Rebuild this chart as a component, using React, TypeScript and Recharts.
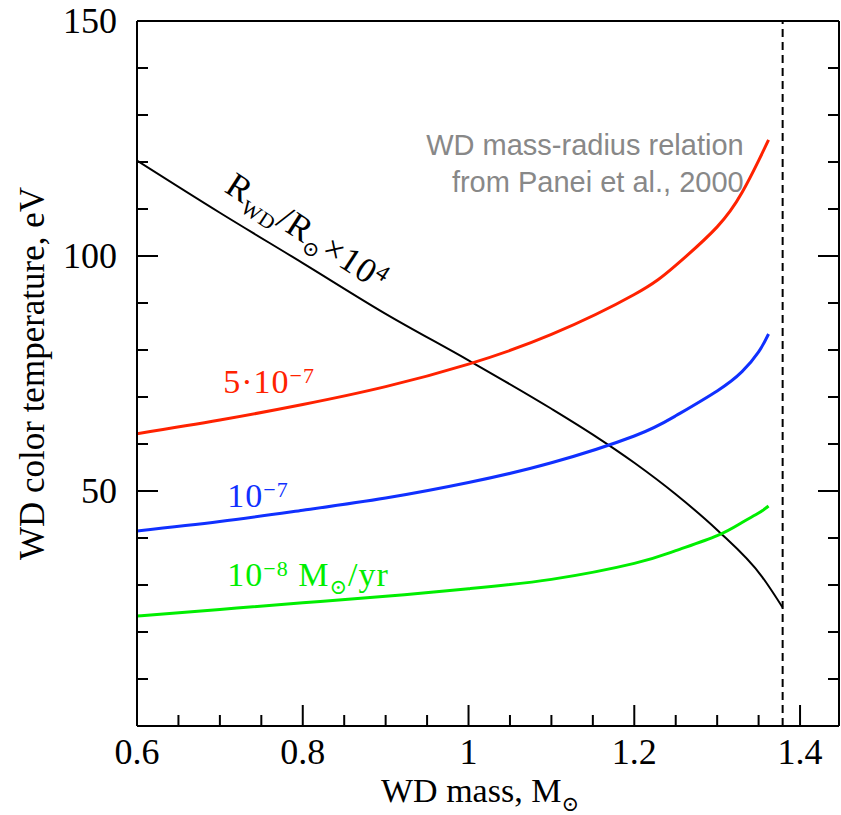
import React from 'react';
import { LineChart, Line, XAxis, YAxis, ReferenceLine, ReferenceDot } from 'recharts';

// ─── Data (WD mass in M_sun, colour temperature in eV) ───
const MASS = [0.6, 0.7, 0.8, 0.9, 1.0, 1.1, 1.2, 1.25, 1.3, 1.33, 1.35, 1.362];
const T_5E7 = [62.2, 65.1, 68.4, 72.2, 77.0, 83.3, 91.8, 98.0, 106.2, 113.5, 120.3, 124.7];
const T_1E7 = [41.5, 43.5, 45.9, 48.5, 51.8, 56.0, 61.7, 66.0, 71.3, 75.4, 79.6, 83.4];
const T_1E8 = [23.4, 24.8, 26.2, 27.6, 29.2, 31.2, 34.6, 37.3, 40.5, 43.3, 45.3, 46.8];

// radius curve (R_WD / R_sun x 1e4), Panei et al. 2000
const MASS_R = [0.6, 0.7, 0.8, 0.9, 1.0, 1.1, 1.15, 1.2, 1.25, 1.3, 1.354, 1.379];
const R_WD = [120.3, 109.2, 98.5, 87.7, 77.8, 67.5, 62.0, 56.0, 49.3, 41.7, 31.8, 25.2];

const M_CH = 1.379;

// ─── Axes ───
const X_DOMAIN = [0.6, 1.447];
const X_TICKS = [0.6, 0.65, 0.7, 0.75, 0.8, 0.85, 0.9, 0.95, 1, 1.05, 1.1, 1.15, 1.2, 1.25, 1.3, 1.35, 1.4];
const X_LABELS = ['0.6', '0.8', '1', '1.2', '1.4'];
const Y_TICKS = [0, 10, 20, 30, 40, 50, 60, 70, 80, 90, 100, 110, 120, 130, 140, 150];
const Y_LABELS = [50, 100, 150];

const SERIF = '"Liberation Serif", "DejaVu Serif", serif';
const SANS = '"Liberation Sans", Arial, sans-serif';
const MAJOR = 21;
const MINOR = 11;

const RED = '#ff2200';
const BLUE = '#1030ff';
const GREEN = '#00ee00';

const toRows = (xs: number[], ys: number[]) => xs.map((m, i) => ({ m, t: ys[i] }));

const isMajorX = (v: number) => X_LABELS.includes(String(v));
const isMajorY = (v: number) => v % 50 === 0;

// ─── inward ticks on all four sides ───
const BottomTick = (p: any) => {
  const v = p.payload.value;
  const major = isMajorX(v);
  return (
    <g>
      <line x1={p.x} y1={p.y} x2={p.x} y2={p.y - (major ? MAJOR : MINOR)} stroke="#000" strokeWidth={2} />
      {major && (
        <text x={p.x} y={p.y + 38} textAnchor="middle" fontFamily={SERIF} fontSize={36} fill="#000">
          {String(v)}
        </text>
      )}
    </g>
  );
};

const TopTick = (p: any) => {
  const major = isMajorX(p.payload.value);
  return <line x1={p.x} y1={p.y} x2={p.x} y2={p.y + (major ? MAJOR : MINOR)} stroke="#000" strokeWidth={2} />;
};

const LeftTick = (p: any) => {
  const v = p.payload.value;
  const major = isMajorY(v);
  return (
    <g>
      <line x1={p.x} y1={p.y} x2={p.x + (major ? MAJOR : MINOR)} y2={p.y} stroke="#000" strokeWidth={2} />
      {Y_LABELS.includes(v) && (
        <text x={p.x - 20} y={p.y + 12} textAnchor="end" fontFamily={SERIF} fontSize={36} fill="#000">
          {v}
        </text>
      )}
    </g>
  );
};

const RightTick = (p: any) => {
  const major = isMajorY(p.payload.value);
  return <line x1={p.x} y1={p.y} x2={p.x - (major ? MAJOR : MINOR)} y2={p.y} stroke="#000" strokeWidth={2} />;
};

// ─── axis titles ───
const XTitle = (p: any) => {
  const vb = p.viewBox;
  return (
    <text x={vb.x + vb.width / 2 - 8} y={vb.y + 76} textAnchor="middle" fontFamily={SERIF} fontSize={34} fill="#000">
      WD mass, M
      <tspan fontSize={21} dy={9}>⊙</tspan>
    </text>
  );
};

const YTitle = (p: any) => {
  const vb = p.viewBox;
  const cx = 44;
  const cy = vb.y + vb.height / 2;
  return (
    <text x={cx} y={cy} transform={`rotate(-90 ${cx} ${cy})`} textAnchor="middle" fontFamily={SERIF} fontSize={35} fill="#000">
      WD color temperature, eV
    </text>
  );
};

// ─── in-plot annotations, anchored at data coordinates ───
const note = (render: (x: number, y: number) => React.ReactNode) => ({
  content: (p: any) => render(p.viewBox.x, p.viewBox.y),
});

export default function App() {
  return (
    <div style={{ position: 'absolute', left: 0, top: 0, background: '#fff' }}>
      <LineChart width={841} height={815} margin={{ top: 20, right: 1, bottom: 0, left: 0 }}>
        <XAxis
          type="number"
          dataKey="m"
          domain={X_DOMAIN}
          ticks={X_TICKS}
          interval={0}
          allowDataOverflow
          height={89}
          tickSize={0}
          tickMargin={0}
          tickLine={false}
          tick={<BottomTick />}
          axisLine={{ stroke: '#000', strokeWidth: 2 }}
          label={{ content: XTitle }}
        />
        <XAxis
          xAxisId="top"
          orientation="top"
          type="number"
          domain={X_DOMAIN}
          ticks={X_TICKS}
          interval={0}
          allowDataOverflow
          height={1}
          tickSize={0}
          tickMargin={0}
          tickLine={false}
          tick={<TopTick />}
          axisLine={{ stroke: '#000', strokeWidth: 2 }}
        />
        <YAxis
          type="number"
          domain={[0, 150]}
          ticks={Y_TICKS}
          interval={0}
          allowDataOverflow
          width={137}
          tickSize={0}
          tickMargin={0}
          tickLine={false}
          tick={<LeftTick />}
          axisLine={{ stroke: '#000', strokeWidth: 2 }}
          label={{ content: YTitle }}
        />
        <YAxis
          yAxisId="right"
          orientation="right"
          type="number"
          domain={[0, 150]}
          ticks={Y_TICKS}
          interval={0}
          allowDataOverflow
          width={1}
          tickSize={0}
          tickMargin={0}
          tickLine={false}
          tick={<RightTick />}
          axisLine={{ stroke: '#000', strokeWidth: 2 }}
        />

        <ReferenceLine x={M_CH} stroke="#000" strokeWidth={2} strokeDasharray="8 5" />

        <Line data={toRows(MASS_R, R_WD)} dataKey="t" type="monotone" stroke="#000" strokeWidth={2} dot={false} isAnimationActive={false} />
        <Line data={toRows(MASS, T_5E7)} dataKey="t" type="natural" stroke={RED} strokeWidth={3} dot={false} isAnimationActive={false} />
        <Line data={toRows(MASS, T_1E7)} dataKey="t" type="natural" stroke={BLUE} strokeWidth={3} dot={false} isAnimationActive={false} />
        <Line data={toRows(MASS, T_1E8)} dataKey="t" type="natural" stroke={GREEN} strokeWidth={3} dot={false} isAnimationActive={false} />

        <ReferenceDot
          x={0.704}
          y={113.8}
          r={0}
          fill="none"
          stroke="none"
          label={note((x, y) => (
            <text x={x} y={y} transform={`rotate(33 ${x} ${y})`} fontFamily={SERIF} fontSize={35} letterSpacing={1} fill="#000">
              R<tspan fontSize={21} dy={8}>WD</tspan>
              <tspan dy={-8}>/R</tspan>
              <tspan fontSize={21} dy={8}>⊙</tspan>
              <tspan dy={-8}>×10</tspan>
              <tspan fontSize={23} dy={-11}>4</tspan>
            </text>
          ))}
        />
        <ReferenceDot
          x={0.704}
          y={70.9}
          r={0}
          fill="none"
          stroke="none"
          label={note((x, y) => (
            <text x={x} y={y} fontFamily={SERIF} fontSize={34} letterSpacing={1} fill={RED}>
              5·10<tspan fontSize={22} dy={-10}>−7</tspan>
            </text>
          ))}
        />
        <ReferenceDot
          x={0.709}
          y={46.6}
          r={0}
          fill="none"
          stroke="none"
          label={note((x, y) => (
            <text x={x} y={y} fontFamily={SERIF} fontSize={34} letterSpacing={1} fill={BLUE}>
              10<tspan fontSize={22} dy={-10}>−7</tspan>
            </text>
          ))}
        />
        <ReferenceDot
          x={0.709}
          y={29.8}
          r={0}
          fill="none"
          stroke="none"
          label={note((x, y) => (
            <text x={x} y={y} fontFamily={SERIF} fontSize={34} letterSpacing={1} fill={GREEN}>
              10<tspan fontSize={22} dy={-10}>−8</tspan>
              <tspan dy={10}> M</tspan>
              <tspan fontSize={21} dy={8}>⊙</tspan>
              <tspan dy={-8}>/yr</tspan>
            </text>
          ))}
        />
        <ReferenceDot
          x={1.332}
          y={121.5}
          r={0}
          fill="none"
          stroke="none"
          label={note((x, y) => (
            <text x={x} y={y} textAnchor="end" fontFamily={SANS} fontSize={29} fill="#888">
              <tspan x={x}>WD mass-radius relation</tspan>
              <tspan x={x} dy={37}>from Panei et al., 2000</tspan>
            </text>
          ))}
        />
      </LineChart>
    </div>
  );
}
